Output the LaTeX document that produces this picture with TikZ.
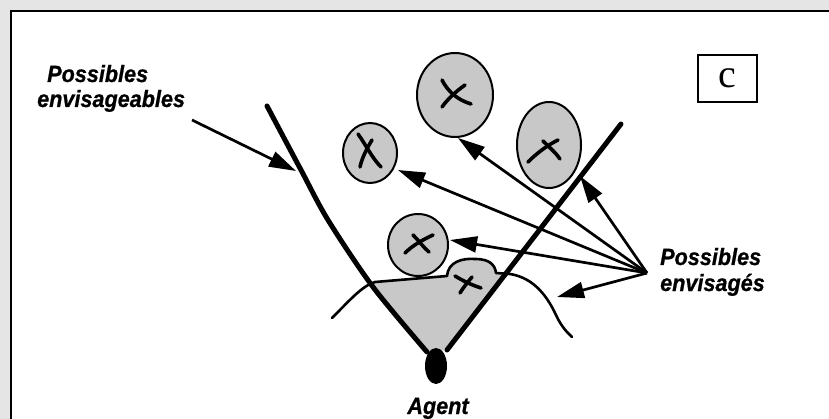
\documentclass[tikz,border=0pt]{standalone}
\usepackage{fontspec}
\setmainfont{Liberation Serif}
\newfontfamily\labelfont[FakeStretch=0.92,FakeBold=0.8]{Liberation Sans}
\usetikzlibrary{arrows.meta,shapes.geometric}

\definecolor{pagegray}{RGB}{229,229,229}
\definecolor{bubblegray}{RGB}{200,200,200}

\begin{document}
\begin{tikzpicture}[x=1pt,y=-1pt,
  lbl/.style={font=\labelfont\bfseries\itshape\fontsize{23.5}{26}\selectfont,
              inner sep=0pt, anchor=base west},
  bubble/.style={ellipse, draw, line width=2pt, fill=bubblegray, inner sep=0pt},
  arr/.style={line width=2.7pt, -{Triangle[length=27pt,width=16pt]}},
  wall/.style={line width=5pt, line cap=round},
  hill/.style={line width=2.6pt, line cap=round, line join=round},
  cross/.style={line width=3.6pt, line cap=round},
  agentblob/.style={ellipse, fill=black, inner sep=0pt},
]
\useasboundingbox (0,0) rectangle (829,419);

% page background and frame
\fill[pagegray] (0,0) rectangle (829,419);
\fill[white] (11,11) rectangle (829,419);
\draw[line width=2.2pt] (11,419) -- (11,11) -- (829,11);

% shaded field between the two walls
\fill[bubblegray] (370,282) -- (375,282) -- (447,276)
  .. controls (448,262) and (462,258) .. (475,259)
  .. controls (490,259) and (495,265) .. (496,273)
  -- (506,273) -- (447,350) -- (428,352) -- cycle;

% the possibles (bubbles)
\node[bubble, minimum width=76, minimum height=84] (pTop) at (455,95) {};
\node[bubble, minimum width=64, minimum height=86] (pRight) at (549,145) {};
\node[bubble, minimum width=54, minimum height=60] (pLeft) at (370,153) {};
\node[bubble, minimum width=60, minimum height=62] (pLow) at (418,245) {};

% crosses
\draw[cross] (442,80) .. controls (448,92) and (458,100) .. (471,104);
\draw[cross] (465,85) .. controls (455,92) and (447,100) .. (442,107);
\draw[cross] (358,134) .. controls (366,145) and (372,158) .. (381,167);
\draw[cross] (372,140) .. controls (366,150) and (362,158) .. (360,167);
\draw[cross] (528,162) .. controls (538,152) and (548,145) .. (558,140);
\draw[cross] (543,141) .. controls (550,148) and (556,153) .. (560,159);
\draw[cross] (413,235) .. controls (420,242) and (424,248) .. (429,252);
\draw[cross] (433,235) .. controls (422,240) and (412,246) .. (405,253);
\draw[cross] (455,276) .. controls (465,282) and (472,285) .. (481,288);
\draw[cross] (472,277) .. controls (467,283) and (463,288) .. (460,293);

% hill outline
\draw[hill] (332,318) .. controls (350,300) and (362,286) .. (375,282) -- (447,276)
  .. controls (448,262) and (462,258) .. (475,259)
  .. controls (490,259) and (495,265) .. (496,273) -- (510,274)
  .. controls (535,278) and (548,298) .. (556,315)
  .. controls (562,328) and (568,333) .. (572,337);

% walls of the cone
\draw[wall] plot[smooth] coordinates {(267,106) (301,170) (328,220) (373,287) (427,352)};
\draw[wall] (621,124) -- (447,350);

% agent
\node[agentblob, minimum width=22, minimum height=36] (agent) at (436,366) {};

% labels
\node[lbl] (lblA1) at (47,82) {Possibles};
\node[lbl] (lblA2) at (37,107) {envisageables};
\node[lbl] (lblB1) at (660,265) {Possibles};
\node[lbl] (lblB2) at (660,291) {envisagés};
\node[lbl, anchor=base] (agentLbl) at (438,414) {Agent};
\node[draw, line width=1.6pt, minimum width=59, minimum height=47, inner sep=0pt,
      font=\fontsize{40}{40}\selectfont] (tag) at (727.5,78.5) {c};

% arrows
\coordinate (aStart) at (192,120);
\coordinate (tEdge) at (296,171);
\coordinate (src) at (647,273);
\coordinate (tTop) at (458,138);
\coordinate (tLeft) at (398,170);
\coordinate (tWall) at (580,176);
\coordinate (tLow) at (450,240);
\coordinate (tHill) at (557,297);

\draw[arr] (aStart) -- (tEdge);
\draw[arr] (src) -- (tTop);
\draw[arr] (src) -- (tLeft);
\draw[arr] (src) -- (tWall);
\draw[arr] (src) -- (tLow);
\draw[arr] (src) -- (tHill);
\end{tikzpicture}
\end{document}
